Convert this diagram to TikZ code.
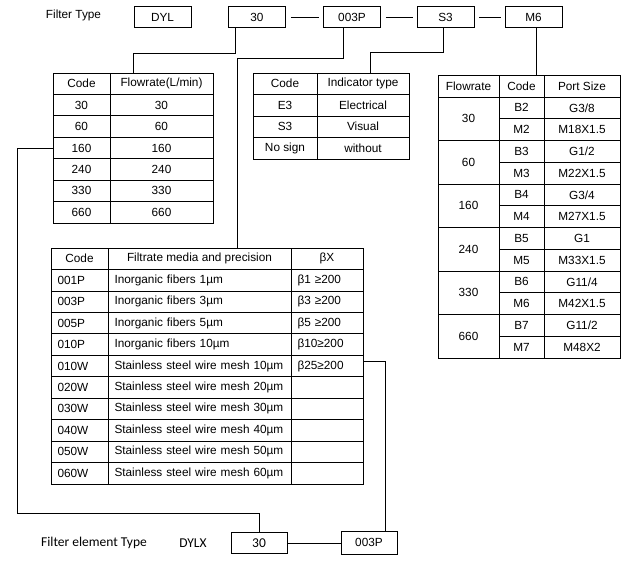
\documentclass[tikz,border=0pt]{standalone}
\usepackage{fontspec}
\setmainfont{Liberation Sans}
\newfontfamily\calibfont{Carlito}
\usetikzlibrary{positioning,fit}

\begin{document}
\begin{tikzpicture}[
    x=1pt, y=-1pt,
    line width=0.75pt,
    every node/.style ={
        font=\fontsize{11.8}{13}\selectfont
    },
    box/.style ={
        draw,
        rectangle,
        minimum width=57,
        minimum height=21,
        inner sep=0pt
    },
    cell/.style ={
        draw,
        rectangle,
        inner sep=0pt,
        outer sep=0pt
    },
    lcell/.style ={
        cell,
        align=left,
        inner xsep=6.5pt
    },
    efont/.style ={
        font=\calibfont\fontsize{13.5}{15}\selectfont
    }
    ]
    \useasboundingbox (0,0) rectangle (633,561);

    \node (ftype) at (73.5,15) {Filter Type};
    \foreach \x/ \pos/ \txt in {dyl/162.5/DYL, b30/257/30, b003/352/003P, bs3/445.5/S3, bm6/533.5/M6}
        \node[box] (\x) at (\pos,17) {\txt};
    \foreach \src/ \dst in {b30/b003, b003/bs3, bs3/bm6}
        \draw[shorten <=5pt, shorten >=4pt] (\src) -- (\dst);

    \foreach \c/ \f [count=\i] in {Code/{Flowrate(L/min)}, 30/30, 60/60, 160/160, 240/240, 330/330, 660/660}
    {
        \node[cell, minimum width=57, minimum height=21.43, anchor=north west] (fa\i) at (53,{51.57+21.43*\i}) {\c};
        \node[cell, minimum width=103, minimum height=21.43, right=0pt of fa\i] (fb\i) {\f};
    }
    \node[fit=(fa1)(fb7), inner sep=0pt] (flowtab) {};

    \foreach \c/ \t [count=\i] in {Code/Indicator type, E3/Electrical, S3/Visual, No sign/without}
    {
        \node[cell, minimum width=64, minimum height=21.5, anchor=north west] (ia\i) at (253,{51.5+21.5*\i}) {\c};
        \node[cell, minimum width=92, minimum height=21.5, right=0pt of ia\i] (ib\i) {\t};
    }
    \node[fit=(ia1)(ib4), inner sep=0pt] (indtab) {};

    \node[cell, minimum width=61, minimum height=22, anchor=north west] (ph1) at (438,75) {Flowrate};
    \node[cell, minimum width=45, minimum height=22, right=0pt of ph1] (ph2) {Code};
    \node[cell, minimum width=76, minimum height=22, right=0pt of ph2] (ph3) {Port Size};
    \foreach \f [count=\i] in {30,60,160,240,330,660}
        \node[cell, minimum width=61, minimum height=43.5, anchor=north west] (pf\i) at (438,{53.5+43.5*\i}) {\f};
    \foreach \c/ \s [count=\i] in {B2/{G3/8}, M2/M18X1.5, B3/{G1/2}, M3/M22X1.5, B4/{G3/4}, M4/M27X1.5,
                                   B5/G1, M5/M33X1.5, B6/{G11/4}, M6/M42X1.5, B7/{G11/2}, M7/M48X2}
    {
        \node[cell, minimum width=45, minimum height=21.75, anchor=north west] (pc\i) at (499,{75.25+21.75*\i}) {\c};
        \node[cell, minimum width=76, minimum height=21.75, right=0pt of pc\i] (ps\i) {\s};
    }
    \node[fit=(ph1)(ps12), inner sep=0pt] (porttab) {};

    \node[cell, minimum width=57, minimum height=21.45, anchor=north west] (ma1) at (51,248) {Code};
    \node[cell, minimum width=183, minimum height=21.45, right=0pt of ma1] (mb1) {Filtrate media and precision};
    \node[cell, minimum width=72, minimum height=21.45, right=0pt of mb1] (mc1) {βX};
    \foreach \c/ \m/ \b [count=\i from 2] in {001P/Inorganic fibers 1µm/β1 ≥200, 003P/Inorganic fibers 3µm/β3 ≥200,
                                              005P/Inorganic fibers 5µm/β5 ≥200, 010P/Inorganic fibers 10µm/β10≥200,
                                              010W/Stainless steel wire mesh 10µm/β25≥200,
                                              020W/Stainless steel wire mesh 20µm/{}, 030W/Stainless steel wire mesh 30µm/{},
                                              040W/Stainless steel wire mesh 40µm/{}, 050W/Stainless steel wire mesh 50µm/{},
                                              060W/Stainless steel wire mesh 60µm/{}}
    {
        \node[lcell, text width=44pt, minimum height=21.45, anchor=north west] (ma\i) at (51,{226.55+21.45*\i}) {\c};
        \node[lcell, text width=170pt, minimum height=21.45, right=0pt of ma\i] (mb\i) {\m};
        \node[lcell, text width=59pt, minimum height=21.45, right=0pt of mb\i] (mc\i) {\b};
    }
    \node[fit=(ma1)(mc11), inner sep=0pt] (medtab) {};

    \node[efont] (etype) at (94,543) {Filter element Type};
    \node[efont] (edylx) at (193,543) {DYLX};
    \node[box, efont, minimum width=56, minimum height=21] (e30) at (259,543) {30};
    \node[box, minimum width=56, minimum height=23] (e003) at (369,542.5) {003P};

    \draw ([xshift=-22pt]b30.south) -- ++(0,26) -| (flowtab.north);
    \draw ([xshift=-9pt]b003.south) -- ++(0,31) -| ([xshift=30pt]medtab.north);
    \draw ([xshift=-2.5pt]bs3.south) -- ++(0,25) -| ([xshift=39pt]indtab.north);
    \draw ([xshift=2.5pt]bm6.south) -- ([xshift=2.5pt]bm6.south |- porttab.north);
    \coordinate (lft) at (17,513);
    \draw (fa4.west) -| (lft) -| (e30.north);
    \draw ([yshift=5pt]mc6.east) -| ([xshift=16pt]e003.north);
    \draw (e30.east) -- (e30.east -| e003.west);
\end{tikzpicture}
\end{document}
